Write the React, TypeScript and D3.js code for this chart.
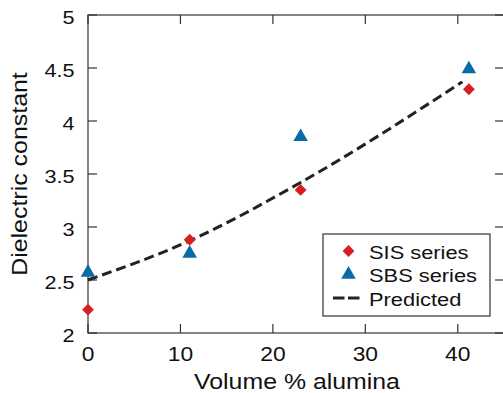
import { useRef, useEffect } from 'react'
import * as d3 from 'd3'

const sisX = [0, 11, 23, 41.2]
const sisY = [2.22, 2.88, 3.35, 4.3]
const sbsX = [0, 11, 23, 41.2]
const sbsY = [2.57, 2.75, 3.85, 4.49]
const predX = [0, 11, 23, 40.5]
const predY = [2.5, 2.87, 3.42, 4.37]
const xTicks = [0, 10, 20, 30, 40]
const yTicks = [2, 2.5, 3, 3.5, 4, 4.5, 5]

const RED = '#d81e24'
const BLUE = '#0a6aa8'
const FONT = '"Liberation Sans", Arial, Helvetica, sans-serif'

export default function App() {
  const svgRef = useRef<SVGSVGElement>(null)

  useEffect(() => {
    if (!svgRef.current) return
    const svg = d3.select(svgRef.current)
    svg.selectAll('*').remove()

    const width = 503
    const height = 393
    const margin = { top: 15, right: -1, bottom: 60, left: 88 }

    const x = d3.scaleLinear().domain([0, 45]).range([margin.left, width - margin.right])
    const y = d3.scaleLinear().domain([2, 5]).range([height - margin.bottom, margin.top])

    const axisColor = '#333'
    const tickLen = 9

    // frame
    svg.append('rect')
      .attr('x', x(0)).attr('y', y(5))
      .attr('width', x(45) - x(0)).attr('height', y(2) - y(5))
      .attr('fill', 'none').attr('stroke', axisColor).attr('stroke-width', 1.2)

    // ticks, inside, all four sides
    const tg = svg.append('g').attr('stroke', axisColor).attr('stroke-width', 1.2)
    xTicks.forEach(t => {
      tg.append('line').attr('x1', x(t)).attr('x2', x(t)).attr('y1', y(2)).attr('y2', y(2) - tickLen)
      tg.append('line').attr('x1', x(t)).attr('x2', x(t)).attr('y1', y(5)).attr('y2', y(5) + tickLen)
    })
    yTicks.forEach(t => {
      tg.append('line').attr('x1', x(0)).attr('x2', x(0) + tickLen).attr('y1', y(t)).attr('y2', y(t))
      tg.append('line').attr('x1', x(45)).attr('x2', x(45) - tickLen).attr('y1', y(t)).attr('y2', y(t))
    })

    // the original text is a bit wider than Arial at the same height
    const stretch = 1.17

    svg.append('g').selectAll('text').data(xTicks).join('text')
      .attr('transform', d => `translate(${x(d)},${y(2) + 28}) scale(${stretch},1)`)
      .attr('text-anchor', 'middle')
      .style('font-family', FONT).style('font-size', '19.5px').style('fill', '#111')
      .text(d => String(d))

    svg.append('g').selectAll('text').data(yTicks).join('text')
      .attr('transform', d => `translate(${x(0) - 13.5},${y(d) + 8.5}) scale(${stretch},1)`)
      .attr('text-anchor', 'end')
      .style('font-family', FONT).style('font-size', '18.5px').style('fill', '#111')
      .text(d => String(d))

    // axis titles
    svg.append('text')
      .attr('transform', `translate(297,389) scale(1.13,1)`)
      .attr('text-anchor', 'middle')
      .style('font-family', FONT).style('font-size', '22px').style('fill', '#111')
      .text('Volume % alumina')

    svg.append('text')
      .attr('transform', `translate(27,174) rotate(-90) scale(1.16,1)`)
      .attr('text-anchor', 'middle')
      .style('font-family', FONT).style('font-size', '21.5px').style('fill', '#111')
      .text('Dielectric constant')

    // predicted line
    const line = d3.line<number>()
      .x(i => x(predX[i]))
      .y(i => y(predY[i]))
      .curve(d3.curveMonotoneX)
    svg.append('path')
      .attr('d', line(predX.map((_, i) => i)))
      .attr('fill', 'none').attr('stroke', '#222')
      .attr('stroke-width', 3).attr('stroke-dasharray', '10,5')

    const diamond = d3.symbol(d3.symbolDiamond2, 90)
    const triangle = d3.symbol(d3.symbolTriangle, 92)

    svg.append('g').selectAll('path').data(sisX.map((v, i) => [v, sisY[i]])).join('path')
      .attr('d', diamond())
      .attr('transform', d => `translate(${x(d[0])},${y(d[1])})`)
      .attr('fill', RED)

    svg.append('g').selectAll('path').data(sbsX.map((v, i) => [v, sbsY[i]])).join('path')
      .attr('d', triangle())
      .attr('transform', d => `translate(${x(d[0])},${y(d[1])})`)
      .attr('fill', BLUE)

    // legend
    const lg = svg.append('g').attr('transform', 'translate(323,234)')
    lg.append('rect').attr('width', 167).attr('height', 82)
      .attr('fill', '#fff').attr('stroke', axisColor).attr('stroke-width', 1.2)
    const rows = [
      { label: 'SIS series', kind: 'sis' },
      { label: 'SBS series', kind: 'sbs' },
      { label: 'Predicted', kind: 'pred' },
    ]
    rows.forEach((r, i) => {
      const cy = 17 + i * 23.5
      if (r.kind === 'sis') {
        lg.append('path').attr('d', diamond()).attr('transform', `translate(25.5,${cy})`).attr('fill', RED)
      } else if (r.kind === 'sbs') {
        lg.append('path').attr('d', triangle()).attr('transform', `translate(25.5,${cy})`).attr('fill', BLUE)
      } else {
        lg.append('line').attr('x1', 10).attr('x2', 36.5).attr('y1', cy).attr('y2', cy)
          .attr('stroke', '#222').attr('stroke-width', 3).attr('stroke-dasharray', '11.5,3.5')
      }
      lg.append('text').attr('transform', `translate(46,${cy + 7.5}) scale(1.15,1)`)
        .style('font-family', FONT).style('font-size', '19px').style('fill', '#111')
        .text(r.label)
    })
  }, [])

  return (
    <svg
      ref={svgRef}
      width={503}
      height={393}
      style={{ position: 'absolute', left: 0, top: 0, background: '#fff' }}
    />
  )
}
